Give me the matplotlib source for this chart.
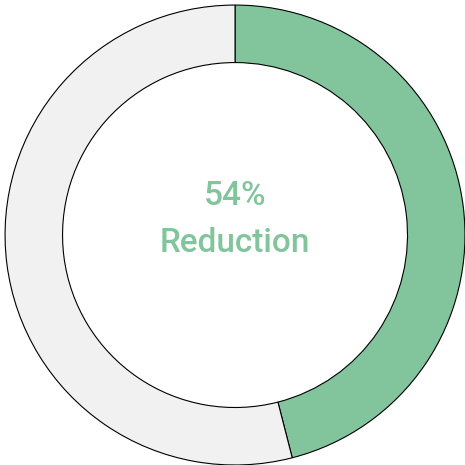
import matplotlib.pyplot as plt

# share of the ring per segment (green = remaining, grey = reduced)
labels = ["Remaining", "Reduced"]
values = [46, 54]
colors = ["#82c49c", "#f1f1f1"]
center_lines = ["54%", "Reduction"]

fig = plt.figure(figsize=(4.65, 4.65), dpi=100)
ax = fig.add_axes([0, 0, 1, 1])

ax.pie(
    values,
    colors=colors,
    startangle=90,
    counterclock=False,
    radius=1.0,
    wedgeprops=dict(width=0.25, edgecolor="black", linewidth=0.8),
)

font = dict(ha="center", va="center", fontsize=24, color="#82c49c",
            family=["Roboto", "DejaVu Sans"], weight="medium")
ax.text(0, 0.17, center_lines[0], **font)
ax.text(0, -0.035, center_lines[1], **font)

ax.set_xlim(-1.022, 1.0)
ax.set_ylim(-1.0, 1.022)
ax.set_aspect("equal")
ax.axis("off")

plt.savefig("out.png", dpi=100)
